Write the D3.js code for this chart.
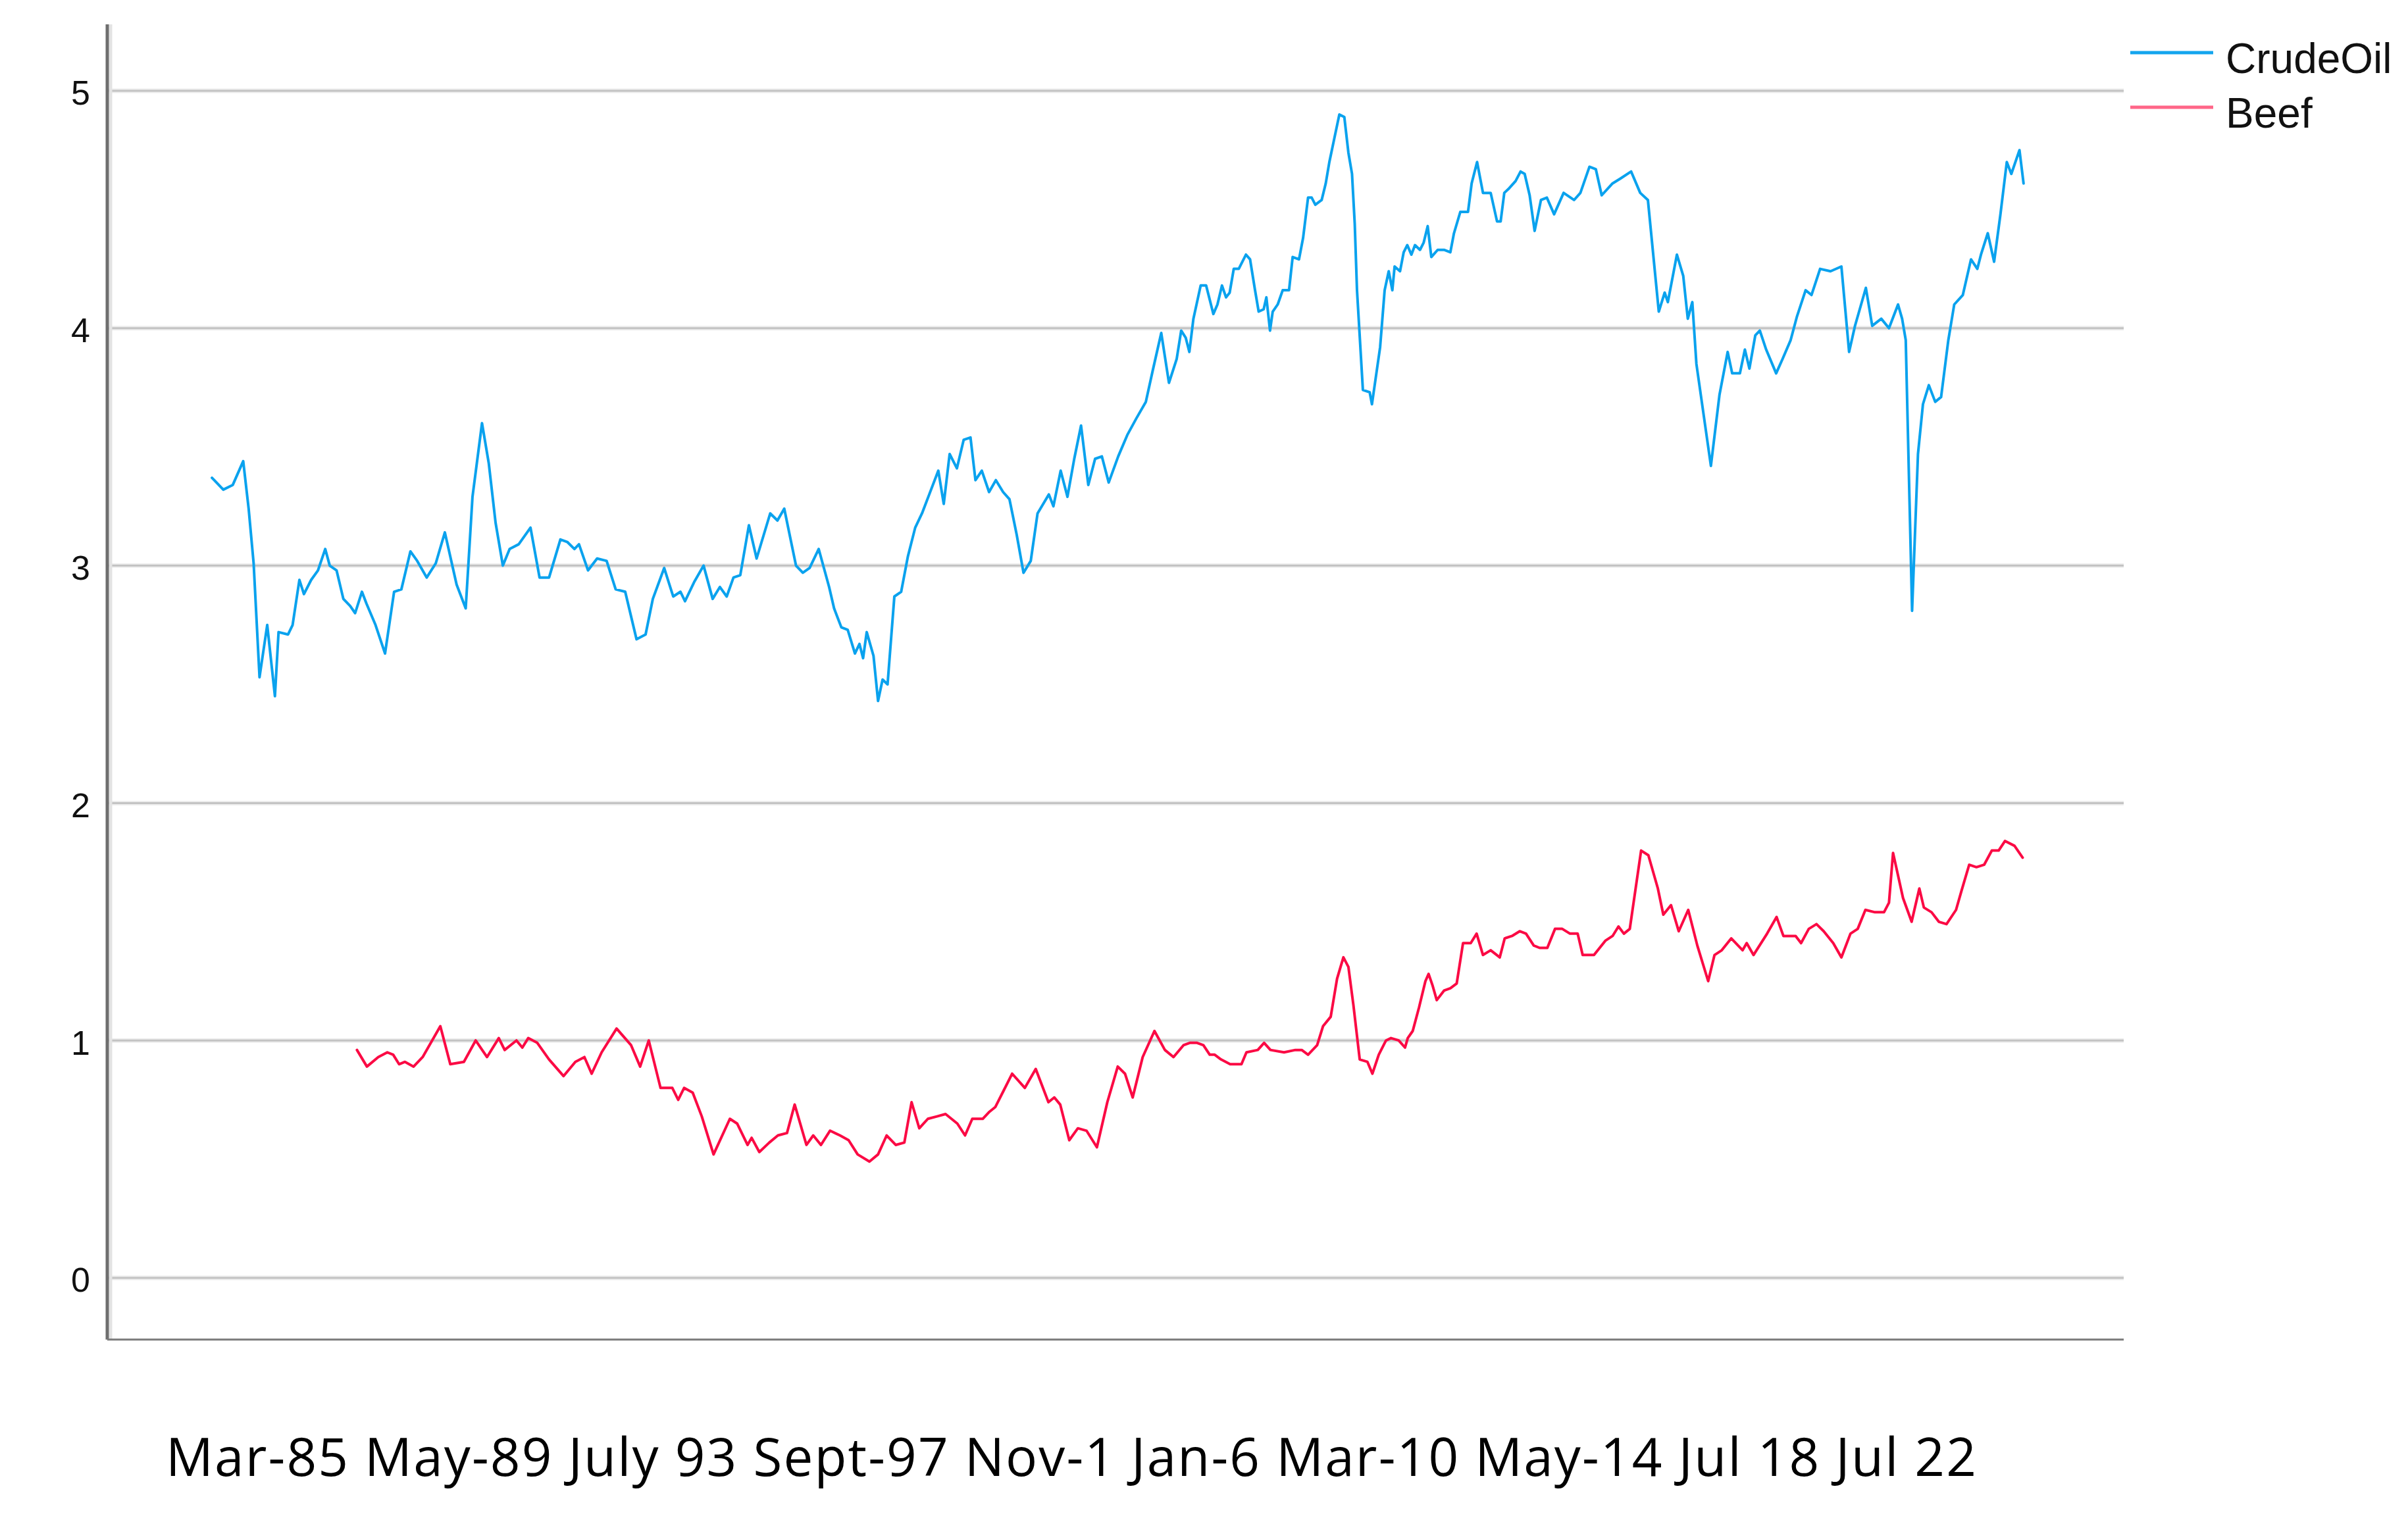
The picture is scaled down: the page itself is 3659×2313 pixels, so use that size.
<!DOCTYPE html>
<html><head><meta charset="utf-8">
<script src="https://cdn.jsdelivr.net/npm/d3@7"></script>
<style>html,body{margin:0;padding:0;background:#fff;} svg{display:block;}</style>
</head><body>
<script>
// ---- data ----
const yTicks = [0, 1, 2, 3, 4, 5];
const xLabels = ["Mar-85", "May-89", "July 93", "Sept-97", "Nov-1", "Jan-6", "Mar-10", "May-14", "Jul 18", "Jul 22"];
const seriesNames = ["CrudeOil", "Beef"];
// [decimal year, value]
const crudeOil = [[1983.00,3.37],[1983.05,3.36],[1983.25,3.32],[1983.46,3.34],[1983.69,3.44],[1983.81,3.24],[1983.92,3.01],[1984.05,2.53],[1984.22,2.75],[1984.39,2.45],[1984.47,2.72],[1984.68,2.71],[1984.78,2.75],[1984.93,2.94],[1985.03,2.88],[1985.19,2.94],[1985.34,2.98],[1985.50,3.07],[1985.60,3.00],[1985.75,2.98],[1985.90,2.86],[1986.05,2.83],[1986.16,2.80],[1986.31,2.89],[1986.41,2.84],[1986.61,2.75],[1986.82,2.63],[1987.02,2.89],[1987.18,2.90],[1987.38,3.06],[1987.53,3.02],[1987.74,2.95],[1987.94,3.01],[1988.14,3.14],[1988.40,2.92],[1988.60,2.82],[1988.75,3.29],[1988.96,3.60],[1989.11,3.43],[1989.26,3.18],[1989.42,3.00],[1989.57,3.07],[1989.77,3.09],[1990.03,3.16],[1990.23,2.95],[1990.44,2.95],[1990.69,3.11],[1990.84,3.10],[1991.00,3.07],[1991.10,3.09],[1991.30,2.98],[1991.50,3.03],[1991.71,3.02],[1991.91,2.90],[1992.12,2.89],[1992.37,2.69],[1992.57,2.71],[1992.73,2.86],[1992.98,2.99],[1993.18,2.87],[1993.34,2.89],[1993.44,2.85],[1993.64,2.93],[1993.85,3.00],[1994.05,2.86],[1994.21,2.91],[1994.36,2.87],[1994.51,2.95],[1994.66,2.96],[1994.85,3.17],[1995.02,3.03],[1995.32,3.22],[1995.48,3.19],[1995.63,3.24],[1995.89,3.00],[1996.04,2.97],[1996.19,2.99],[1996.39,3.07],[1996.62,2.91],[1996.73,2.82],[1996.89,2.74],[1997.03,2.73],[1997.19,2.63],[1997.29,2.67],[1997.37,2.61],[1997.45,2.72],[1997.60,2.62],[1997.70,2.43],[1997.80,2.52],[1997.91,2.50],[1998.06,2.87],[1998.21,2.89],[1998.36,3.04],[1998.52,3.16],[1998.67,3.22],[1998.83,3.30],[1999.03,3.40],[1999.15,3.26],[1999.28,3.47],[1999.44,3.41],[1999.59,3.53],[1999.74,3.54],[1999.85,3.36],[1999.99,3.40],[2000.15,3.31],[2000.30,3.36],[2000.46,3.31],[2000.60,3.28],[2000.76,3.13],[2000.91,2.97],[2001.07,3.02],[2001.22,3.22],[2001.47,3.30],[2001.57,3.25],[2001.73,3.40],[2001.88,3.29],[2002.03,3.45],[2002.18,3.59],[2002.34,3.34],[2002.49,3.45],[2002.64,3.46],[2002.79,3.35],[2003.00,3.46],[2003.20,3.55],[2003.40,3.62],[2003.61,3.69],[2003.76,3.82],[2003.95,3.98],[2004.12,3.77],[2004.29,3.87],[2004.39,3.99],[2004.49,3.96],[2004.57,3.90],[2004.66,4.04],[2004.82,4.18],[2004.94,4.18],[2005.10,4.06],[2005.19,4.10],[2005.29,4.18],[2005.38,4.13],[2005.46,4.15],[2005.55,4.25],[2005.66,4.25],[2005.82,4.31],[2005.91,4.29],[2006.02,4.16],[2006.10,4.07],[2006.21,4.08],[2006.27,4.13],[2006.35,3.99],[2006.41,4.07],[2006.52,4.10],[2006.63,4.16],[2006.77,4.16],[2006.85,4.30],[2006.99,4.29],[2007.08,4.38],[2007.19,4.55],[2007.27,4.55],[2007.35,4.52],[2007.49,4.54],[2007.58,4.61],[2007.66,4.70],[2007.77,4.80],[2007.88,4.90],[2007.99,4.89],[2008.08,4.74],[2008.16,4.65],[2008.22,4.44],[2008.27,4.16],[2008.40,3.74],[2008.55,3.73],[2008.60,3.68],[2008.78,3.92],[2008.88,4.16],[2008.97,4.24],[2009.05,4.16],[2009.10,4.26],[2009.22,4.24],[2009.30,4.32],[2009.38,4.35],[2009.47,4.31],[2009.55,4.35],[2009.66,4.33],[2009.74,4.36],[2009.83,4.43],[2009.91,4.30],[2010.05,4.33],[2010.19,4.33],[2010.33,4.32],[2010.41,4.40],[2010.55,4.49],[2010.72,4.49],[2010.80,4.61],[2010.92,4.70],[2011.05,4.57],[2011.22,4.57],[2011.36,4.45],[2011.44,4.45],[2011.52,4.57],[2011.63,4.59],[2011.77,4.62],[2011.88,4.66],[2011.97,4.65],[2012.08,4.56],[2012.19,4.41],[2012.33,4.54],[2012.46,4.55],[2012.62,4.48],[2012.83,4.57],[2013.06,4.54],[2013.20,4.57],[2013.40,4.68],[2013.54,4.67],[2013.67,4.56],[2013.91,4.61],[2014.08,4.63],[2014.32,4.66],[2014.52,4.57],[2014.69,4.54],[2014.93,4.07],[2015.06,4.15],[2015.13,4.11],[2015.33,4.31],[2015.47,4.22],[2015.57,4.04],[2015.67,4.11],[2015.76,3.85],[2016.08,3.42],[2016.27,3.72],[2016.45,3.90],[2016.55,3.81],[2016.72,3.81],[2016.83,3.91],[2016.93,3.83],[2017.06,3.97],[2017.16,3.99],[2017.30,3.91],[2017.52,3.81],[2017.66,3.87],[2017.84,3.95],[2017.98,4.05],[2018.17,4.16],[2018.30,4.14],[2018.49,4.25],[2018.72,4.24],[2018.96,4.26],[2019.05,4.07],[2019.13,3.90],[2019.26,4.01],[2019.50,4.17],[2019.64,4.01],[2019.84,4.04],[2020.01,4.00],[2020.21,4.10],[2020.30,4.04],[2020.38,3.95],[2020.52,2.81],[2020.65,3.47],[2020.76,3.68],[2020.89,3.76],[2021.03,3.69],[2021.16,3.71],[2021.32,3.95],[2021.45,4.10],[2021.64,4.14],[2021.82,4.29],[2021.96,4.25],[2022.04,4.31],[2022.19,4.40],[2022.33,4.28],[2022.47,4.48],[2022.61,4.70],[2022.71,4.65],[2022.89,4.75],[2022.98,4.61]];
const beef = [[1986.20,0.96],[1986.42,0.89],[1986.67,0.93],[1986.87,0.95],[1987.00,0.94],[1987.13,0.90],[1987.26,0.91],[1987.45,0.89],[1987.65,0.93],[1988.04,1.06],[1988.26,0.90],[1988.56,0.91],[1988.82,1.00],[1989.07,0.93],[1989.33,1.01],[1989.46,0.96],[1989.72,1.00],[1989.85,0.97],[1989.98,1.01],[1990.18,0.99],[1990.44,0.92],[1990.76,0.85],[1991.02,0.91],[1991.22,0.93],[1991.38,0.86],[1991.60,0.95],[1991.93,1.05],[1992.25,0.98],[1992.45,0.89],[1992.64,1.00],[1992.90,0.80],[1993.16,0.80],[1993.29,0.75],[1993.42,0.80],[1993.61,0.78],[1993.81,0.68],[1994.07,0.52],[1994.43,0.67],[1994.59,0.65],[1994.82,0.56],[1994.91,0.59],[1995.08,0.53],[1995.30,0.57],[1995.49,0.60],[1995.69,0.61],[1995.86,0.73],[1996.12,0.56],[1996.27,0.60],[1996.44,0.56],[1996.64,0.62],[1996.86,0.60],[1997.05,0.58],[1997.25,0.52],[1997.51,0.49],[1997.70,0.52],[1997.89,0.60],[1998.09,0.56],[1998.28,0.57],[1998.44,0.74],[1998.61,0.63],[1998.80,0.67],[1999.00,0.68],[1999.19,0.69],[1999.45,0.65],[1999.62,0.60],[1999.78,0.67],[2000.01,0.67],[2000.16,0.70],[2000.29,0.72],[2000.66,0.86],[2000.94,0.80],[2001.18,0.88],[2001.46,0.74],[2001.59,0.76],[2001.72,0.73],[2001.92,0.58],[2002.11,0.63],[2002.30,0.62],[2002.53,0.55],[2002.76,0.74],[2002.99,0.89],[2003.15,0.86],[2003.32,0.76],[2003.54,0.93],[2003.80,1.04],[2004.03,0.96],[2004.22,0.93],[2004.44,0.98],[2004.58,0.99],[2004.74,0.99],[2004.88,0.98],[2005.02,0.94],[2005.13,0.94],[2005.27,0.92],[2005.47,0.90],[2005.72,0.90],[2005.83,0.95],[2006.08,0.96],[2006.22,0.99],[2006.36,0.96],[2006.66,0.95],[2006.91,0.96],[2007.05,0.96],[2007.19,0.94],[2007.39,0.98],[2007.52,1.06],[2007.69,1.10],[2007.83,1.26],[2007.97,1.35],[2008.08,1.31],[2008.19,1.15],[2008.33,0.92],[2008.50,0.91],[2008.61,0.86],[2008.75,0.94],[2008.91,1.00],[2009.02,1.01],[2009.19,1.00],[2009.33,0.97],[2009.39,1.01],[2009.50,1.04],[2009.64,1.14],[2009.78,1.25],[2009.85,1.28],[2009.94,1.23],[2010.03,1.17],[2010.19,1.21],[2010.33,1.22],[2010.47,1.24],[2010.61,1.41],[2010.78,1.41],[2010.91,1.45],[2011.05,1.36],[2011.22,1.38],[2011.42,1.35],[2011.53,1.43],[2011.69,1.44],[2011.86,1.46],[2012.00,1.45],[2012.17,1.40],[2012.30,1.39],[2012.47,1.39],[2012.64,1.47],[2012.80,1.47],[2012.97,1.45],[2013.14,1.45],[2013.25,1.36],[2013.50,1.36],[2013.75,1.42],[2013.91,1.44],[2014.04,1.48],[2014.16,1.45],[2014.29,1.47],[2014.54,1.80],[2014.70,1.78],[2014.91,1.64],[2015.03,1.53],[2015.20,1.57],[2015.37,1.46],[2015.58,1.55],[2015.78,1.40],[2016.02,1.25],[2016.16,1.36],[2016.32,1.38],[2016.53,1.43],[2016.78,1.38],[2016.87,1.41],[2017.02,1.36],[2017.32,1.45],[2017.53,1.52],[2017.68,1.44],[2017.95,1.44],[2018.07,1.41],[2018.24,1.47],[2018.41,1.49],[2018.57,1.46],[2018.78,1.41],[2018.96,1.35],[2019.16,1.45],[2019.32,1.47],[2019.49,1.55],[2019.70,1.54],[2019.90,1.54],[2020.01,1.58],[2020.10,1.79],[2020.32,1.60],[2020.51,1.50],[2020.68,1.64],[2020.78,1.56],[2020.95,1.54],[2021.11,1.50],[2021.28,1.49],[2021.49,1.55],[2021.61,1.63],[2021.78,1.74],[2021.94,1.73],[2022.11,1.74],[2022.28,1.80],[2022.43,1.80],[2022.57,1.84],[2022.78,1.82],[2022.96,1.77]];

// ---- layout / style ----
const W = 3659, H = 2313;
const colors = {CrudeOil: "#0aa2ee", Beef: "#fb0a44"};
const legendColors = {CrudeOil: "#14a5ee", Beef: "#ff6688"};

const svg = d3.select("body").append("svg").attr("width", W).attr("height", H)
  .style("background", "#fff");

const x = d3.scaleLinear().domain([1980.69, 2025.19]).range([163, 3227]);
const y = d3.scaleLinear().domain([0, 5]).range([1942, 138]);
const yMin = -0.26, yMax = 5.28;

// gridlines
const grid = svg.append("g");
grid.selectAll("line.halo").data(yTicks).join("line").attr("class", "halo")
  .attr("x1", x.range()[0]).attr("x2", x.range()[1])
  .attr("y1", d => y(d)).attr("y2", d => y(d))
  .attr("stroke", "#ededed").attr("stroke-width", 7);
grid.selectAll("line.core").data(yTicks).join("line").attr("class", "core")
  .attr("x1", x.range()[0]).attr("x2", x.range()[1])
  .attr("y1", d => y(d)).attr("y2", d => y(d))
  .attr("stroke", "#c3c3c3").attr("stroke-width", 3);

// y axis via d3.axisLeft, restyled
const yAxis = svg.append("g").attr("transform", `translate(${x.range()[0]},0)`)
  .call(d3.axisLeft(y).tickValues(yTicks).tickSize(0).tickPadding(26).tickFormat(d3.format("d")));
yAxis.select(".domain").remove();
yAxis.selectAll("text")
  .attr("font-family", "'Liberation Sans', Arial, sans-serif")
  .attr("font-size", 52).attr("fill", "#111").attr("dy", "0.40em");

// frame: left axis line and bottom line
svg.append("line").attr("x1", x.range()[0] + 5).attr("x2", x.range()[0] + 5)
  .attr("y1", y(yMax)).attr("y2", y(yMin)).attr("stroke", "#e3e3e3").attr("stroke-width", 5);
svg.append("line").attr("x1", x.range()[0]).attr("x2", x.range()[0])
  .attr("y1", y(yMax)).attr("y2", y(yMin)).attr("stroke", "#6e6e6e").attr("stroke-width", 5);
svg.append("line").attr("x1", x.range()[0]).attr("x2", x.range()[1])
  .attr("y1", y(yMin)).attr("y2", y(yMin)).attr("stroke", "#7a7a7a").attr("stroke-width", 3);

// series
const line = d3.line().x(d => x(d[0])).y(d => y(d[1]));
const seriesData = {CrudeOil: crudeOil, Beef: beef};
seriesNames.forEach(name => {
  svg.append("path").datum(seriesData[name])
    .attr("d", line).attr("fill", "none")
    .attr("stroke", colors[name]).attr("stroke-width", 4)
    .attr("stroke-linejoin", "round").attr("stroke-linecap", "round");
});

// legend
const legend = svg.append("g").attr("transform", "translate(3237,80)");
seriesNames.forEach((name, i) => {
  const g = legend.append("g").attr("transform", `translate(0,${i * 83})`);
  g.append("line").attr("x1", 0).attr("x2", 126).attr("y1", 0).attr("y2", 0)
    .attr("stroke", legendColors[name]).attr("stroke-width", 5);
  g.append("text").attr("x", 145).attr("y", 31)
    .attr("font-family", "'Liberation Sans', Arial, sans-serif").attr("font-size", 64)
    .attr("fill", "#111").text(name);
});

// x caption labels (single line as in the original)
svg.append("text").attr("x", 252).attr("y", 2243)
  .attr("font-family", "'Open Sans', 'Noto Sans', sans-serif").attr("font-size", 80)
  .attr("textLength", 2751).attr("lengthAdjust", "spacing")
  .attr("fill", "#000").text(xLabels.join(" "));
</script>
</body></html>
